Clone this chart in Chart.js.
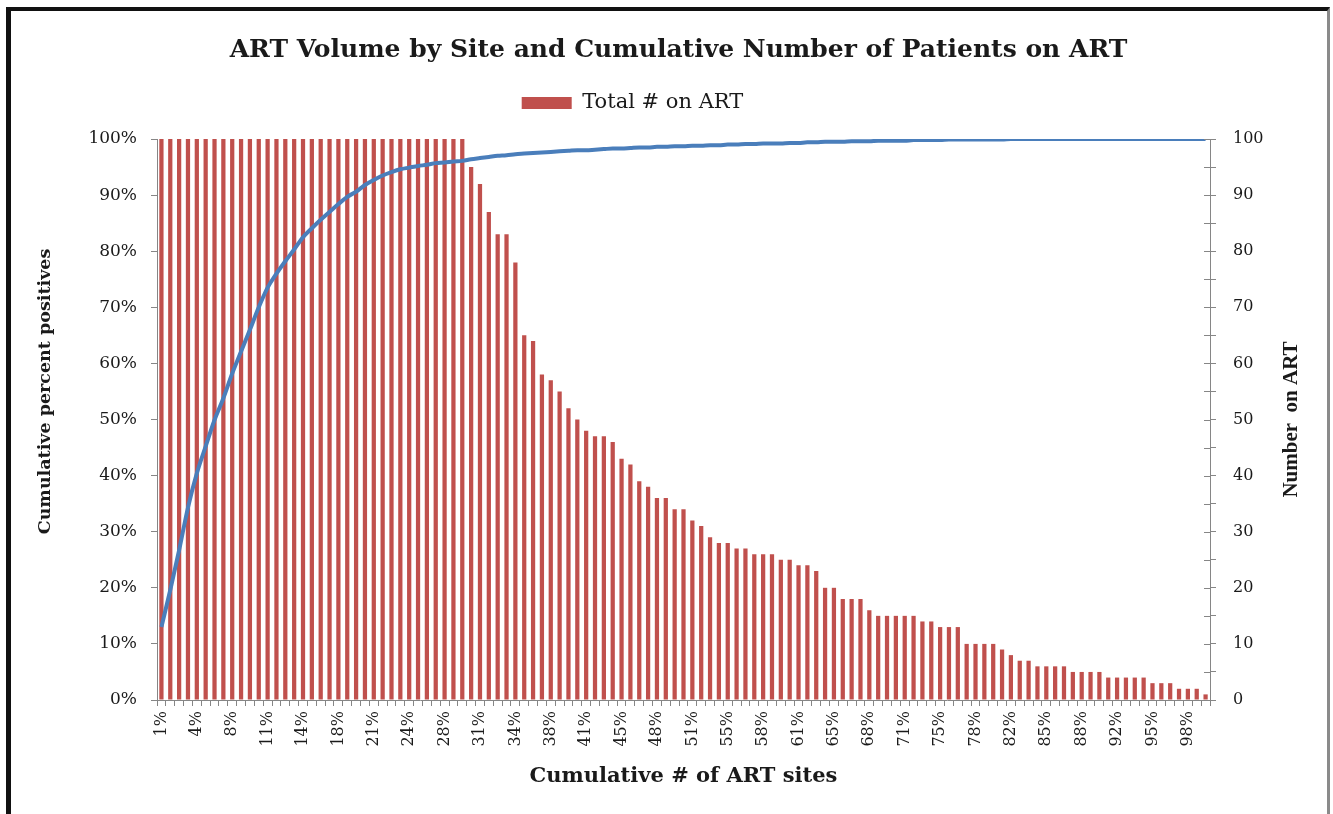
<!DOCTYPE html>
<html>
<head>
<meta charset="utf-8">
<script src="https://cdn.jsdelivr.net/npm/chart.js@4.4.1/dist/chart.umd.min.js"></script>
<style>
  html, body { margin: 0; padding: 0; background: #fff; }
  #wrap { position: relative; width: 1333px; height: 814px; overflow: hidden; }
  canvas { position: absolute; left: 0; top: 0; }
  #frame {
    position: absolute; left: 6px; top: 7px; width: 1324px; height: 830px;
    border-left: 5px solid #111; border-top: 4px solid #111; border-right: 3px solid #8a8a8a;
    box-sizing: border-box; pointer-events: none;
  }
</style>
</head>
<body>
<div id="wrap">
  <canvas id="myChart" width="1333" height="814"></canvas>
  <div id="frame"></div>
</div>
<script>
// data
const siteCount = 119;
// category = cumulative share of ART sites
const siteLabels = [];
for (let i = 1; i <= siteCount; i++) siteLabels.push(Math.round(i / siteCount * 100) + '%');

// patients on ART per site (right axis, sites above 100 are cut off at the top)
const totalOnArt = [
  100, 100, 100, 100, 100, 100, 100, 100, 100, 100,
  100, 100, 100, 100, 100, 100, 100, 100, 100, 100,
  100, 100, 100, 100, 100, 100, 100, 100, 100, 100,
  100, 100, 100, 100, 100,
  95, 92, 87, 83, 83, 78, 65, 64, 58, 57,
  55, 52, 50, 48, 47, 47, 46, 43, 42, 39,
  38, 36, 36, 34, 34, 32, 31, 29, 28, 28,
  27, 27, 26, 26, 26, 25, 25, 24, 24, 23,
  20, 20, 18, 18, 18, 16, 15, 15, 15, 15,
  15, 14, 14, 13, 13, 13, 10, 10, 10, 10,
  9, 8, 7, 7, 6, 6, 6, 6, 5, 5,
  5, 5, 4, 4, 4, 4, 4, 3, 3, 3,
  2, 2, 2, 1
];

// cumulative percent of patients (left axis)
const cumulativePct = [
  13, 19.6, 26.7, 34.3, 40.4, 45.2, 49.9, 53.8, 58.2, 62.1,
  66.0, 70.0, 73.5, 76.0, 78.2, 80.3, 82.5, 84.1, 85.6, 87.0,
  88.4, 89.7, 90.6, 91.8, 92.7, 93.5, 94.1, 94.6, 94.9, 95.2,
  95.4, 95.7, 95.8, 96.0, 96.1, 96.4, 96.6, 96.8, 97.0, 97.1,
  97.3, 97.4, 97.5, 97.6, 97.7, 97.8, 97.9, 98.0, 98.0, 98.1,
  98.2, 98.3, 98.3, 98.4, 98.5, 98.5, 98.6, 98.6, 98.7, 98.7,
  98.8, 98.8, 98.9, 98.9, 99.0, 99.0, 99.1, 99.1, 99.2, 99.2,
  99.2, 99.3, 99.3, 99.4, 99.4, 99.5, 99.5, 99.5, 99.6, 99.6,
  99.6, 99.7, 99.7, 99.7, 99.7, 99.8, 99.8, 99.8, 99.8, 99.9,
  99.9, 99.9, 99.9, 99.9, 99.9, 99.9, 100, 100, 100, 100,
  100, 100, 100, 100, 100, 100, 100, 100, 100, 100,
  100, 100, 100, 100, 100, 100, 100, 100, 100
];

const axisColor = '#868686';
const textColor = '#1a1a1a';
const serif = 'DejaVu Serif';

// small tweaks: extra room under the legend, legend/title offsets, axis titles, right axis ticks
const layoutTweaks = {
  id: 'layoutTweaks',
  beforeInit(chart) {
    const fit = chart.legend.fit;
    chart.legend.fit = function () {
      fit.bind(chart.legend)();
      this.height += 15.5;
    };
  },
  afterLayout(chart) {
    chart.legend.left -= 34;
    chart.legend.right -= 34;
    chart.titleBlock.left += 12;
    chart.titleBlock.right += 12;
  },
  afterDraw(chart) {
    const {ctx, chartArea} = chart;
    const s = chart.scales.y1;
    const mid = (chartArea.top + chartArea.bottom) / 2;
    ctx.save();
    ctx.strokeStyle = axisColor;
    ctx.lineWidth = 1;
    s.ticks.forEach((t, i) => {
      const y = Math.round(s.getPixelForTick(i)) + 0.5;
      ctx.beginPath();
      ctx.moveTo(chartArea.right - 6, y);
      ctx.lineTo(chartArea.right, y);
      ctx.stroke();
    });
    ctx.fillStyle = textColor;
    ctx.textAlign = 'center';
    ctx.textBaseline = 'middle';
    // right axis title reads bottom to top
    ctx.save();
    ctx.translate(s.right - 41, mid);
    ctx.rotate(-Math.PI / 2);
    ctx.font = 'bold 21px "Liberation Serif"';
    ctx.fillText('Number  on ART', 0, 0);
    ctx.restore();
    // left axis title sits a little above the middle
    ctx.save();
    ctx.translate(chart.scales.y.left + 45, mid - 28);
    ctx.rotate(-Math.PI / 2);
    ctx.font = 'bold 17.5px "DejaVu Serif"';
    ctx.fillText('Cumulative percent positives', 0, 0);
    ctx.restore();
    ctx.restore();
  }
};

const config = {
  type: 'bar',
  data: {
    labels: siteLabels,
    datasets: [
      {
        type: 'line',
        label: 'Cumulative percent',
        data: cumulativePct,
        yAxisID: 'y',
        borderColor: '#4A7EBB',
        backgroundColor: '#4A7EBB',
        borderWidth: 4,
        pointRadius: 0,
        cubicInterpolationMode: 'monotone',
        order: 0
      },
      {
        type: 'bar',
        label: 'Total # on ART',
        data: totalOnArt,
        yAxisID: 'y1',
        backgroundColor: '#C0504D',
        borderWidth: 0,
        barPercentage: 0.48,
        categoryPercentage: 1,
        order: 1
      }
    ]
  },
  options: {
    responsive: false,
    animation: false,
    layout: { padding: { left: 0, right: 0, top: 0, bottom: 14 } },
    plugins: {
      title: {
        display: true,
        text: 'ART Volume by Site and Cumulative Number of Patients on ART',
        color: textColor,
        font: { family: serif, size: 25, weight: 'bold' },
        padding: { top: 35, bottom: 17.5 }
      },
      legend: {
        display: true,
        labels: {
          filter: item => item.datasetIndex === 1,
          boxWidth: 50,
          boxHeight: 12,
          color: textColor,
          font: { family: serif, size: 21 }
        }
      },
      tooltip: { enabled: false }
    },
    scales: {
      x: {
        offset: true,
        grid: { display: true, drawOnChartArea: false, offset: true, tickLength: 6, color: axisColor },
        border: { color: axisColor, width: 1 },
        ticks: {
          autoSkip: false,
          minRotation: 90,
          maxRotation: 90,
          padding: 5,
          color: textColor,
          font: { family: serif, size: 16 },
          callback: (v, i) => i % 4 === 0 ? siteLabels[i] : ''
        },
        title: {
          display: true,
          text: 'Cumulative # of ART sites',
          color: textColor,
          font: { family: serif, size: 21, weight: 'bold' },
          padding: { top: 0, bottom: 11 }
        },
        afterFit: s => { s.height = 100; }
      },
      y: {
        position: 'left',
        min: 0,
        max: 100,
        grid: { drawOnChartArea: false, tickLength: 6, color: axisColor },
        border: { color: axisColor, width: 1 },
        ticks: {
          stepSize: 10,
          padding: 14,
          color: textColor,
          font: { family: serif, size: 17 },
          callback: v => v + '%'
        },
        afterFit: s => { s.width = 157; }
      },
      y1: {
        position: 'right',
        min: 0,
        max: 100,
        grid: { drawOnChartArea: false, tickLength: 6, color: axisColor },
        border: { color: axisColor, width: 1 },
        ticks: {
          stepSize: 5,
          padding: 17,
          color: textColor,
          font: { family: serif, size: 16 },
          callback: v => v % 10 === 0 ? v : ''
        },
        afterFit: s => { s.width = 123; }
      }
    }
  },
  plugins: [layoutTweaks]
};

const myChart = new Chart(document.getElementById('myChart'), config);
</script>
</body>
</html>
